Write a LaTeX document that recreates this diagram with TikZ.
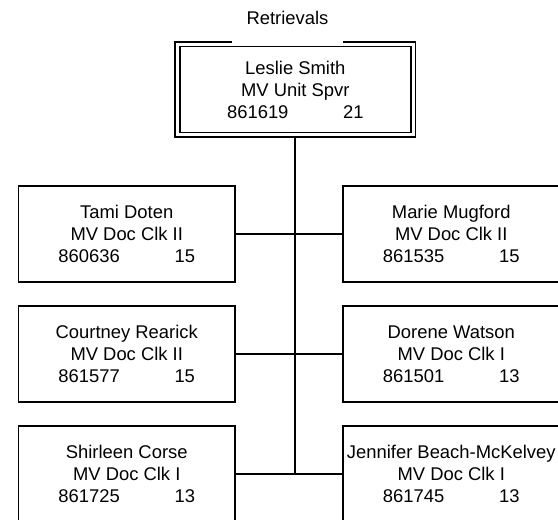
\documentclass[tikz,border=0pt]{standalone}
\usepackage{fontspec}
\setmainfont{Liberation Sans}
\newcommand{\numline}[2]{#1\hspace{41pt}#2}
\begin{document}
\begin{tikzpicture}[x=0.75pt,y=-0.75pt,
  every node/.style={font=\fontsize{13.8}{16.5}\selectfont},
  emp/.style={draw, line width=1.4pt, minimum width=162.4pt, minimum height=72pt, inner sep=0pt, align=center},
  boss/.style={draw, line width=1.2pt, double, double distance=2.4pt, minimum width=176.8pt, minimum height=68pt, inner sep=0pt, align=center},
  titlebox/.style={fill=white, minimum width=83.7pt, minimum height=38.6pt, inner sep=0pt},
  link/.style={line width=1.4pt}]
\useasboundingbox (0,0) rectangle (558,519);
\clip (0,0) rectangle (558,519);

\node[boss] (top) at (295.35,89.5) {Leslie Smith\\MV Unit Spvr\\\numline{861619}{21}};
\node[titlebox] (title) at (287.5,18.3) {Retrievals};

\node[emp] (L1) at (126.75,234) {Tami Doten\\MV Doc Clk II\\\numline{860636}{15}};
\node[emp] (R1) at (451.25,234) {Marie Mugford\\MV Doc Clk II\\\numline{861535}{15}};
\node[emp] (L2) at (126.75,354) {Courtney Rearick\\MV Doc Clk II\\\numline{861577}{15}};
\node[emp] (R2) at (451.25,354) {Dorene Watson\\MV Doc Clk I\\\numline{861501}{13}};
\node[emp] (L3) at (126.75,474) {Shirleen Corse\\MV Doc Clk I\\\numline{861725}{13}};
\node[emp] (R3) at (451.25,474) {Jennifer Beach-McKelvey\\MV Doc Clk I\\\numline{861745}{13}};

\draw[link] (top.south) -- (top.south |- L3.east);
\draw[link] (L1.east) -- (R1.west);
\draw[link] (L2.east) -- (R2.west);
\draw[link] (L3.east) -- (R3.west);
\end{tikzpicture}
\end{document}
